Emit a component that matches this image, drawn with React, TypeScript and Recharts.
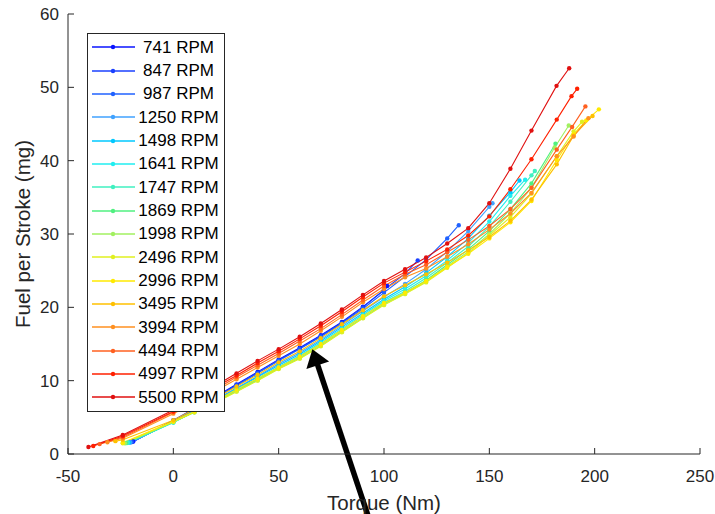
import React from 'react';
import { LineChart, Line, XAxis, YAxis, Legend, ReferenceLine } from 'recharts';

const rpmLabels = [
  '741 RPM', '847 RPM', '987 RPM', '1250 RPM', '1498 RPM', '1641 RPM', '1747 RPM', '1869 RPM',
  '1998 RPM', '2496 RPM', '2996 RPM', '3495 RPM', '3994 RPM', '4494 RPM', '4997 RPM', '5500 RPM',
];

const lineColors = [
  '#0a14ff', '#1a40ff', '#2062ff', '#40a2ff', '#00c8ff', '#20eef0', '#40f0c0', '#50f080',
  '#a2f060', '#e0f020', '#ffea00', '#ffc000', '#ff9020', '#ff6020', '#ff2000', '#e01010',
];

const xTicks = [-50, 0, 50, 100, 150, 200, 250];
const yTicks = [0, 10, 20, 30, 40, 50, 60];

// [torque (Nm), fuel per stroke (mg)]
const s741 = [[-19, 1.7], [0, 4.6], [10, 6.2], [20, 7.8], [30, 9.5], [40, 11.2], [50, 12.9], [60, 14.5], [70, 16.2], [80, 18.0], [90, 20.1], [100, 22.3], [101.5, 22.9]];
const s847 = [[-19.5, 1.65], [0, 4.5], [10, 6.1], [20, 7.7], [30, 9.4], [40, 11.1], [50, 12.8], [60, 14.4], [70, 16.1], [80, 17.9], [90, 20.0], [100, 22.4], [110, 24.6], [116, 26.4]];
const s987 = [[-20, 1.6], [0, 4.5], [10, 6.0], [20, 7.6], [30, 9.3], [40, 11.0], [50, 12.7], [60, 14.3], [70, 16.0], [80, 17.8], [90, 19.8], [100, 22.0], [110, 24.2], [120, 26.5], [130, 29.4], [135.5, 31.2]];
const s1250 = [[-20.5, 1.6], [0, 4.4], [10, 5.9], [20, 7.4], [30, 9.0], [40, 10.6], [50, 12.3], [60, 13.8], [70, 15.6], [80, 17.5], [90, 19.5], [100, 21.4], [110, 23.2], [120, 25.2], [130, 27.6], [140, 30.4], [150, 33.7], [151.5, 34.2]];
const s1498 = [[-21, 1.55], [0, 4.35], [10, 5.85], [20, 7.3], [30, 8.9], [40, 10.5], [50, 12.1], [60, 13.6], [70, 15.4], [80, 17.3], [90, 19.2], [100, 21.1], [110, 22.8], [120, 24.7], [130, 26.9], [140, 29.4], [150, 32.5], [160, 35.7], [164.3, 37.3]];
const s1641 = [[-21.5, 1.55], [0, 4.3], [10, 5.8], [20, 7.2], [30, 8.8], [40, 10.3], [50, 11.9], [60, 13.4], [70, 15.2], [80, 17.1], [90, 19.0], [100, 20.9], [110, 22.5], [120, 24.3], [130, 26.4], [140, 28.8], [150, 31.7], [160, 35.2], [167, 37.4]];
const s1747 = [[-22, 1.5], [0, 4.3], [10, 5.75], [20, 7.1], [30, 8.7], [40, 10.2], [50, 11.8], [60, 13.3], [70, 15.0], [80, 16.9], [90, 18.8], [100, 20.7], [110, 22.2], [120, 24.0], [130, 26.1], [140, 28.3], [150, 31.0], [160, 34.4], [170, 38.0], [171.6, 38.6]];
const s1869 = [[-22.5, 1.5], [0, 4.35], [10, 5.7], [20, 7.1], [30, 8.6], [40, 10.1], [50, 11.7], [60, 13.1], [70, 14.8], [80, 16.7], [90, 18.6], [100, 20.5], [110, 22.0], [120, 23.7], [130, 25.8], [140, 27.9], [150, 30.4], [160, 33.4], [170, 36.9], [181.4, 42.3]];
const s1998 = [[-23, 1.45], [0, 4.35], [10, 5.7], [20, 7.05], [30, 8.55], [40, 10.05], [50, 11.65], [60, 13.05], [70, 14.75], [80, 16.65], [90, 18.55], [100, 20.4], [110, 21.9], [120, 23.5], [130, 25.6], [140, 27.6], [150, 30.0], [160, 32.8], [170, 36.3], [181, 41.8], [187.7, 44.8]];
const s2496 = [[-24, 1.45], [0, 4.4], [10, 5.7], [20, 7.0], [30, 8.5], [40, 10.0], [50, 11.6], [60, 13.0], [70, 14.7], [80, 16.6], [90, 18.5], [100, 20.3], [110, 21.8], [120, 23.4], [130, 25.4], [140, 27.4], [150, 29.8], [160, 32.3], [170, 35.5], [182, 40.6], [190, 44.0], [194, 45.3]];
const s2996 = [[-24, 1.55], [0, 4.45], [10, 5.8], [20, 7.2], [30, 8.8], [40, 10.3], [50, 11.8], [60, 13.3], [70, 15.0], [80, 16.9], [90, 18.8], [100, 20.6], [110, 22.0], [120, 23.6], [130, 25.5], [140, 27.3], [150, 29.4], [160, 31.6], [170, 34.5], [182, 40.1], [190, 43.6], [196, 45.5], [202, 47.0]];
const s3495 = [[-27.5, 1.75], [-24, 1.95], [0, 4.6], [10, 6.1], [20, 7.6], [30, 9.2], [40, 10.8], [50, 12.5], [60, 14.0], [70, 15.8], [80, 17.7], [90, 19.6], [100, 21.5], [110, 23.0], [120, 24.5], [130, 26.1], [140, 27.8], [150, 29.6], [160, 31.8], [170, 34.7], [182, 39.5], [190, 43.4], [199, 46.1]];
const s3994 = [[-31.3, 1.6], [-24, 2.15], [0, 5.5], [10, 7.0], [20, 8.6], [30, 10.2], [40, 11.8], [50, 13.4], [60, 15.0], [70, 16.8], [80, 18.7], [90, 20.7], [100, 22.5], [110, 24.1], [120, 25.3], [130, 26.9], [140, 28.6], [150, 30.6], [160, 32.8], [170, 35.6], [182, 40.6], [190, 43.3], [197, 45.8]];
const s4494 = [[-35, 1.35], [-24, 2.3], [0, 5.7], [10, 7.2], [20, 8.8], [30, 10.5], [40, 12.1], [50, 13.7], [60, 15.4], [70, 17.1], [80, 19.0], [90, 21.0], [100, 22.9], [110, 24.5], [120, 25.8], [130, 27.5], [140, 29.2], [150, 31.1], [160, 33.4], [170, 36.3], [182, 41.5], [189.3, 44.6], [195.6, 47.4]];
const s4997 = [[-38, 1.1], [-24, 2.45], [0, 5.8], [10, 7.4], [20, 9.1], [30, 10.7], [40, 12.4], [50, 14.0], [60, 15.7], [70, 17.5], [80, 19.4], [90, 21.4], [100, 23.3], [110, 24.8], [120, 26.3], [130, 27.9], [140, 29.8], [150, 32.4], [160, 36.1], [170, 40.2], [182, 45.6], [189, 48.8], [191.7, 49.8]];
const s5500 = [[-40.3, 0.95], [-24, 2.6], [0, 6.0], [10, 7.6], [20, 9.3], [30, 11.0], [40, 12.7], [50, 14.3], [60, 16.0], [70, 17.8], [80, 19.7], [90, 21.7], [100, 23.6], [110, 25.2], [120, 26.8], [130, 28.7], [140, 30.8], [150, 34.2], [160, 38.9], [170, 44.1], [181.9, 50.2], [187.9, 52.6]];

const allSeries = [s741, s847, s987, s1250, s1498, s1641, s1747, s1869, s1998, s2496, s2996, s3495, s3994, s4494, s4997, s5500];

// annotation arrow: tail below the axis, tip on the curves (data units)
const arrowSegment = [{ x: 93.1, y: -9 }, { x: 66, y: 14.3 }];

const FONT = '"Liberation Sans", Arial, Helvetica, sans-serif';
const INK = '#262626';

const toPoints = (pairs: number[][]) => pairs.map(([t, f]) => ({ t, f }));

const ArrowShape = (props: any) => {
  const { x1, y1, x2, y2 } = props;
  if ([x1, y1, x2, y2].some((v) => typeof v !== 'number' || isNaN(v))) return null;
  const len = Math.hypot(x2 - x1, y2 - y1);
  const ux = (x2 - x1) / len;
  const uy = (y2 - y1) / len;
  const headLen = 17;
  const headHalf = 12;
  const bx = x2 - ux * headLen;
  const by = y2 - uy * headLen;
  const px = -uy;
  const py = ux;
  return (
    <g>
      <line x1={x1} y1={y1} x2={bx + ux * 2} y2={by + uy * 2} stroke="#000" strokeWidth={5.5} />
      <polygon
        points={`${x2},${y2} ${bx + px * headHalf},${by + py * headHalf} ${bx - px * headHalf},${by - py * headHalf}`}
        fill="#000"
      />
    </g>
  );
};

// legend keeps the plotting order (recharts would sort it by name)
const LegendBox = () => (
  <div
    style={{
      width: 138,
      height: 379,
      boxSizing: 'border-box',
      border: `1px solid ${INK}`,
      background: '#fff',
      paddingTop: 1.5,
      fontFamily: FONT,
      fontSize: 17,
      color: '#000',
    }}
  >
    {rpmLabels.map((label, i) => (
      <div key={label} style={{ height: 23.35, display: 'flex', alignItems: 'center' }}>
        <svg width={50} height={10} style={{ display: 'block' }}>
          <line x1={4} y1={5} x2={47} y2={5} stroke={lineColors[i]} strokeWidth={1.5} />
          <circle cx={25} cy={5} r={2.2} fill={lineColors[i]} />
        </svg>
        <span style={{ width: 81, textAlign: 'center', lineHeight: 1, whiteSpace: 'nowrap' }}>{label}</span>
      </div>
    ))}
  </div>
);

const App = () => {
  return (
    <div style={{ position: 'absolute', left: 0, top: 0, width: 715, height: 514, background: '#fff' }}>
      <LineChart width={715} height={514} margin={{ top: 14, right: 15, left: 0, bottom: 0 }}>
        <XAxis
          type="number"
          dataKey="t"
          domain={[-50, 250]}
          ticks={xTicks}
          interval={0}
          height={60}
          tickSize={-6}
          tickMargin={22}
          stroke={INK}
          tick={{ fill: INK, fontSize: 17, fontFamily: FONT }}
          label={{ value: 'Torque (Nm)', position: 'insideBottom', offset: 4, fill: INK, fontSize: 20.5, fontFamily: FONT }}
        />
        <YAxis
          type="number"
          dataKey="f"
          domain={[0, 60]}
          ticks={yTicks}
          interval={0}
          width={68}
          tickSize={-6}
          tickMargin={15}
          stroke={INK}
          tick={{ fill: INK, fontSize: 17, fontFamily: FONT }}
          label={{
            value: 'Fuel per Stroke (mg)',
            angle: -90,
            position: 'insideLeft',
            offset: 23,
            fill: INK,
            fontSize: 20.5,
            fontFamily: FONT,
            style: { textAnchor: 'middle' },
          }}
        />
        {allSeries.map((s, i) => (
          <Line
            key={rpmLabels[i]}
            data={toPoints(s)}
            dataKey="f"
            name={rpmLabels[i]}
            type="linear"
            stroke={lineColors[i]}
            strokeWidth={1.1}
            dot={{ r: 2.2, fill: lineColors[i], stroke: 'none' }}
            activeDot={false}
            isAnimationActive={false}
          />
        ))}
        <ReferenceLine segment={arrowSegment} ifOverflow="visible" shape={ArrowShape} />
        <Legend
          layout="vertical"
          align="center"
          verticalAlign="middle"
          wrapperStyle={{ left: 87, top: 33 }}
          content={LegendBox}
        />
      </LineChart>
    </div>
  );
};

export default App;
